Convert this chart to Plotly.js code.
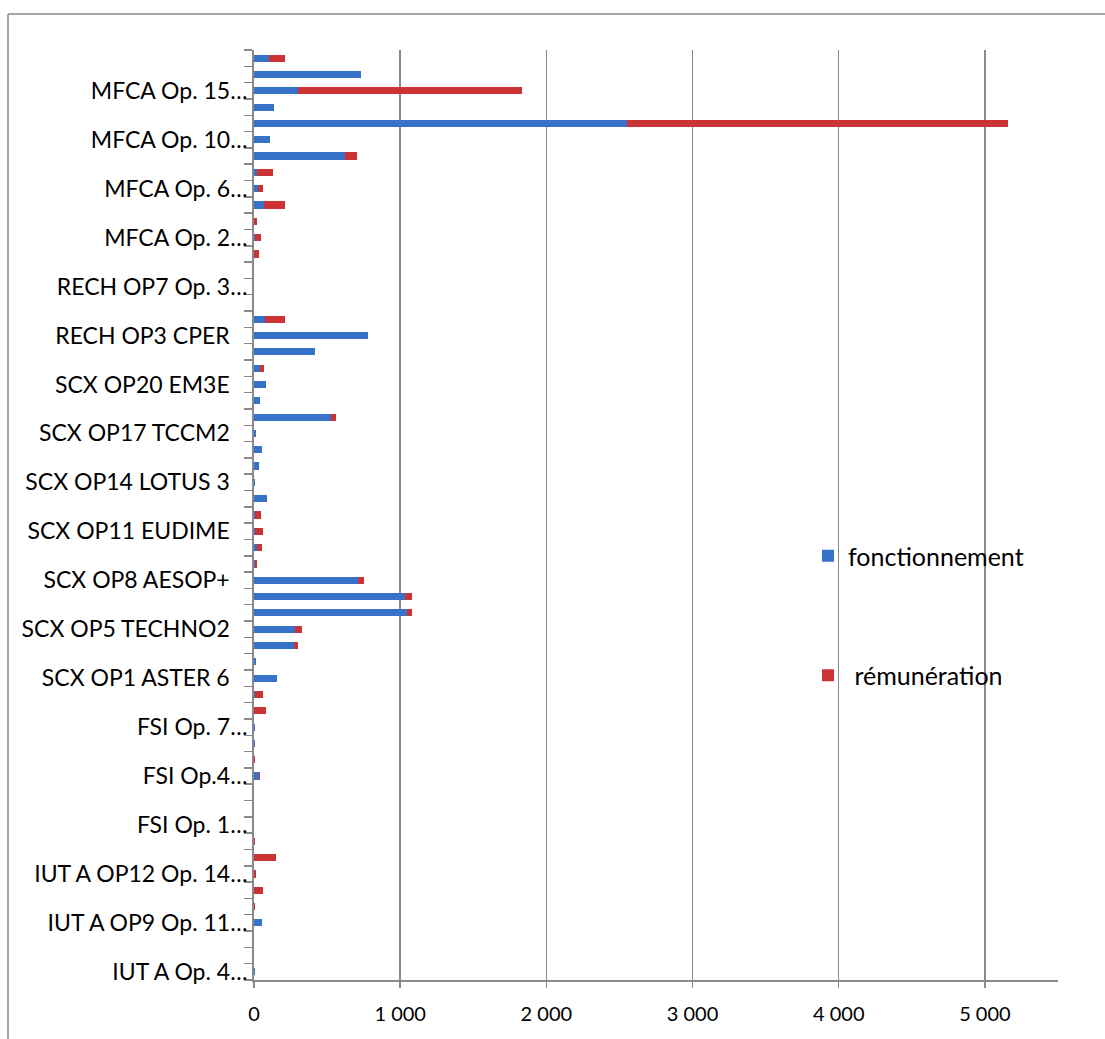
<!DOCTYPE html>
<html>
<head>
<meta charset="utf-8">
<script src="https://cdn.plot.ly/plotly-3.0.1.min.js"></script>
<style>
  html, body { margin: 0; padding: 0; background: #ffffff; }
  #chart { width: 1105px; height: 1039px; }
</style>
</head>
<body>
<div id="chart"></div>
<script>
// Rows listed from the bottom of the chart (row 1) to the top (row 57).
// Only every third row carries a visible label, as in the original.
const pad3 = "\u00a0\u00a0\u00a0";
const tickLabels = [
  "IUT A Op. 4\u2026",
  "IUT A OP9 Op. 11\u2026",
  "IUT A OP12 Op. 14\u2026",
  "FSI Op. 1\u2026",
  "FSI Op.4\u2026",
  "FSI Op. 7\u2026",
  "SCX OP1 ASTER 6" + pad3,
  "SCX OP5 TECHNO2" + pad3,
  "SCX OP8 AESOP+" + pad3,
  "SCX OP11 EUDIME" + pad3,
  "SCX OP14 LOTUS 3" + pad3,
  "SCX OP17 TCCM2" + pad3,
  "SCX OP20 EM3E" + pad3,
  "RECH OP3 CPER" + pad3,
  "RECH OP7 Op. 3\u2026",
  "MFCA Op. 2\u2026",
  "MFCA Op. 6\u2026",
  "MFCA Op. 10\u2026",
  "MFCA Op. 15\u2026"
];

// fonctionnement (blue), row 1 .. row 57
const fonctionnement = [
  10, 3, 2, 58, 0, 3, 3, 3, 0, 3,
  3, 0, 35, 0, 5, 5, 3, 5, 155, 15,
  275, 280, 1045, 1030, 710, 10, 18, 5, 5, 92,
  10, 35, 58, 15, 530, 40, 82, 40, 415, 780,
  75, 3, 0, 2, 3, 5, 3, 65, 25, 20,
  625, 110, 2550, 140, 300, 730, 105
];

// rémunération (red), row 1 .. row 57
const remuneration = [
  0, 0, 0, 0, 5, 60, 10, 145, 5, 0,
  0, 3, 8, 5, 0, 0, 77, 58, 0, 0,
  25, 45, 35, 50, 45, 10, 34, 58, 40, 0,
  0, 0, 0, 0, 30, 0, 0, 30, 0, 0,
  137, 0, 0, 0, 30, 45, 20, 150, 35, 110,
  80, 0, 2610, 0, 1530, 0, 107
];

const seriesNames = ["fonctionnement", "\u00a0r\u00e9mun\u00e9ration"];
const xTickValues = [0, 1000, 2000, 3000, 4000, 5000];
const labelEvery = 3;

const rows = fonctionnement.map((_, i) => i + 1);
const labelRows = tickLabels.map((_, i) => 1 + i * labelEvery);

const PL = 254, PR = 1058, PT = 50, PB = 980, W = 1105, H = 1039;
const px2x = p => (p - PL) / (PR - PL);
const px2y = p => (PB - p) / (PB - PT);

const gray = "#8a8a8a";
const font = "Lato, 'Open Sans', sans-serif";

const traces = [
  {
    type: "bar", orientation: "h", name: seriesNames[0],
    x: fonctionnement, y: rows, width: 0.44,
    marker: { color: "#3572c8", line: { width: 0 } },
    legendgroup: "a", hoverinfo: "x+name"
  },
  {
    type: "bar", orientation: "h", name: seriesNames[1],
    x: remuneration, y: rows, width: 0.44,
    marker: { color: "#cb3334", line: { width: 0 } },
    legendgroup: "b", hoverinfo: "x+name"
  }
];

const layout = {
  width: W, height: H,
  margin: { l: PL, r: W - PR, t: PT, b: H - PB, pad: 0 },
  paper_bgcolor: "#ffffff",
  plot_bgcolor: "rgba(0,0,0,0)",
  barmode: "stack",
  separators: ", ",
  font: { family: font, size: 19, color: "#000000" },
  showlegend: true,
  legend: {
    x: px2x(808), y: px2y(533), xanchor: "left", yanchor: "top",
    bgcolor: "rgba(0,0,0,0)",
    traceorder: "grouped", tracegroupgap: 84,
    font: { family: font, size: 25, color: "#000000" },
    itemwidth: 30
  },
  xaxis: {
    range: [0, 5500],
    tickmode: "array", tickvals: xTickValues,
    separatethousands: true, tickformat: ",d",
    showgrid: true, gridcolor: gray, gridwidth: 1.5,
    zeroline: false,
    showline: true, linecolor: gray, linewidth: 2,
    ticks: "outside", ticklen: 6, tickcolor: gray, tickwidth: 1.5,
    ticklabelstandoff: 9,
    tickfont: { family: font, size: 20, color: "#000000" },
    fixedrange: true
  },
  yaxis: {
    range: [0.5, rows.length + 0.5],
    tickmode: "array", tickvals: labelRows, ticktext: tickLabels,
    ticks: "", showgrid: false, zeroline: false,
    showline: true, linecolor: gray, linewidth: 2,
    minor: { tickmode: "linear", tick0: 0.5, dtick: 1, ticks: "outside", ticklen: 8, tickcolor: gray, tickwidth: 1.5, showgrid: false },
    ticklabelstandoff: 0,
    tickfont: { family: font, size: 23, color: "#000000" },
    fixedrange: true
  },
  shapes: [
    { type: "line", xref: "paper", yref: "paper",
      x0: px2x(8), x1: px2x(8), y0: px2y(14), y1: px2y(1039),
      line: { color: gray, width: 1.5 } },
    { type: "line", xref: "paper", yref: "paper",
      x0: px2x(8), x1: px2x(1105), y0: px2y(14), y1: px2y(14),
      line: { color: gray, width: 1.5 } }
  ]
};

Plotly.newPlot("chart", traces, layout, { displayModeBar: false, staticPlot: true });
</script>
</body>
</html>
